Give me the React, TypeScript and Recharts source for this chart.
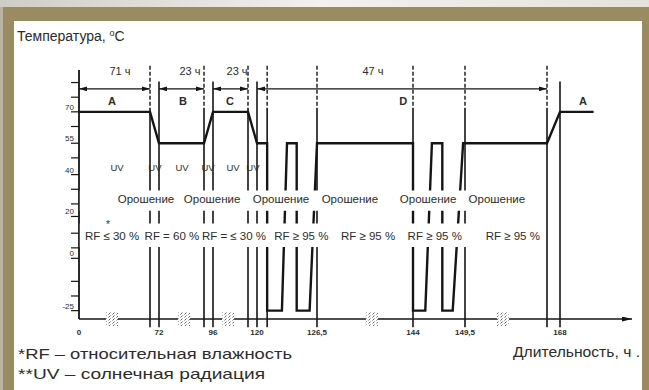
import React from "react";
import {
  LineChart,
  Line,
  XAxis,
  YAxis,
  ReferenceLine,
  ReferenceArea,
  ReferenceDot,
} from "recharts";

// temperature profile: hours -> °C
const profileHours = [0, 71, 72, 95, 96, 119, 120, 121.1, 121.1, 122.7, 123.25, 124.3, 124.3, 125.7, 126.5, 144, 144, 145.3, 146, 147.1, 147.1, 148.2, 149.3, 167, 168, 175];
const profileTemps = [70, 70, 55, 55, 70, 70, 55, 55, -25, -25, 55, 55, -25, -25, 55, 55, -25, -25, 55, 55, -25, -25, 55, 55, 70, 70];

const xTicks = [0, 72, 96, 120, 126.5, 144, 149.5, 168];
const yLabelled = [70, 55, 40, 20, 0, -25];
const yMinor = [84, 77, 63, 48, 33, 26, 12, 5, -11, -18];

// vertical marks: phase boundaries (tall, dashed top) and step ends (short)
const boundaryHours = [71, 95, 119, 121.1, 126.5, 144, 149.5, 167];
const stepHours = [72, 96, 120, 168];

// duration arrows on top
const spanFrom = [0, 72, 96, 120];
const spanTo = [71, 95, 119, 167];
const spanText = ["71 ч", "23 ч", "23 ч", "47 ч"];
const spanTextAt = [41, 87.8, 111.8, 136.7];

const phaseText = ["A", "B", "C", "D", "A"];
const phaseAt = [33, 84.3, 107.2, 142.2, 172.8];

const uvAt = [38, 71.55, 83.75, 95.45, 109.2, 119.55];
const sprayAt = [67, 95.9, 122.6, 132.5, 145.6, 156.3];
const rfAt = [33, 78.6, 109.8, 124.8, 135.8, 146.3, 159.7];
const rfText = ["RF ≤ 30 %", "RF = 60 %", "RF = ≤ 30 %", "RF ≥ 95 %", "RF ≥ 95 %", "RF ≥ 95 %", "RF ≥ 95 %"];

// axis break symbols on the time axis
const breakAt = [33, 84.8, 105.9, 136.5, 157.6];

// the time axis of the drawing is broken: each hour anchor gets its own length
const breakHours = [0, 71, 72, 95, 96, 119, 120, 126.5, 144, 149.5, 167, 168, 183];
const breakLengths = [0, 71, 80, 125, 134, 169, 178, 238, 334, 386, 468, 481, 553];

function brokenScale(dom: number[], rng: number[]): any {
  const n = breakHours.length - 1;
  const s: any = (v: number) => {
    let i = 0;
    while (i < n - 1 && v > breakHours[i + 1]) i++;
    const f =
      breakLengths[i] +
      ((v - breakHours[i]) / (breakHours[i + 1] - breakHours[i])) *
        (breakLengths[i + 1] - breakLengths[i]);
    return rng[0] + (f / breakLengths[n]) * (rng[1] - rng[0]);
  };
  s.domain = (d?: number[]) => (d === undefined ? dom : brokenScale(d, rng));
  s.range = (r?: number[]) => (r === undefined ? rng : brokenScale(dom, r));
  s.copy = () => brokenScale(dom, rng);
  s.ticks = () => xTicks.slice();
  s.tickFormat = () => (v: number) => String(v);
  return s;
}

const INK = "#151515";
const TEXT = "#2c2c2c";
const FONT = "'Liberation Sans', Arial, sans-serif";
const KHAKI = "#9b8b63";
const AXIS_X = 79; // margin.left + YAxis width

const profile = profileHours.map((h, i) => ({ h, t: profileTemps[i] }));

const label =
  (text: string, size: number, weight = 400) =>
  (p: any) =>
    (
      <text
        x={p.cx}
        y={p.cy}
        dy="0.35em"
        textAnchor="middle"
        fontSize={size}
        fontWeight={weight}
        fill={TEXT}
        fontFamily={FONT}
      >
        {text}
      </text>
    );

const breakShape = (p: any) => (
  <g>
    <rect x={p.cx - 6} y={p.cy - 7} width={12} height={14} fill="#fff" />
    <rect x={p.cx - 6} y={p.cy - 7} width={12} height={14} fill="url(#brk)" />
  </g>
);

const arrowLine = (p: any) => (
  <line
    x1={p.x1}
    y1={p.y1}
    x2={p.x2}
    y2={p.y2}
    stroke={INK}
    strokeWidth={1.3}
    markerStart="url(#arrowHead)"
    markerEnd="url(#arrowHead)"
  />
);

const YTick = (p: any) => {
  const v = p.payload.value;
  if (!yLabelled.includes(v)) return <g />;
  return (
    <text x={AXIS_X - 5} y={p.y - 2} textAnchor="end" fontSize={8} fill={TEXT} fontFamily={FONT}>
      {v}
    </text>
  );
};

const XTick = (p: any) => (
  <text x={p.x} y={p.y + 8} textAnchor="middle" fontSize={8} fontWeight={700} fill={TEXT} fontFamily={FONT}>
    {String(p.payload.value).replace(".", ",")}
  </text>
);

export default function App() {
  return (
    <div style={{ position: "fixed", left: 0, top: 0, width: 649, height: 390, background: "#fff", overflow: "hidden" }}>
      <svg width={649} height={390} style={{ position: "absolute", left: 0, top: 0 }}>
        <defs>
          <linearGradient id="topFade" x1="0" x2="1" y1="0" y2="0">
            <stop offset="0" stopColor="#cfcdc7" />
            <stop offset="0.5" stopColor="#f2f1ee" />
            <stop offset="1" stopColor="#e4e2dc" />
          </linearGradient>
          <marker id="arrowHead" viewBox="0 0 10 6" refX="10" refY="3" markerWidth="8" markerHeight="5" orient="auto-start-reverse" markerUnits="userSpaceOnUse">
            <path d="M0,0 L10,3 L0,6 z" fill={INK} />
          </marker>
          <marker id="axisArrow" viewBox="0 0 12 6" refX="12" refY="3" markerWidth="12" markerHeight="5" orient="auto" markerUnits="userSpaceOnUse">
            <path d="M0,0 L12,3 L0,6 z" fill={INK} />
          </marker>
          <pattern id="brk" width="4" height="3" patternUnits="userSpaceOnUse">
            <path d="M0.5,2.5 L2.5,0.5" stroke="#555" strokeWidth={0.9} />
          </pattern>
        </defs>
        <rect x={0} y={0} width={649} height={7} fill="url(#topFade)" />
        <rect x={0} y={7} width={649} height={14} fill={KHAKI} />
        <rect x={0} y={7} width={14} height={383} fill={KHAKI} />
        <rect x={0} y={7} width={3} height={383} fill="#b9b3a3" />
        <rect x={642} y={7} width={7} height={383} fill={KHAKI} />
        <text x={17} y={41} fontSize={14} fill={TEXT} fontFamily={FONT}>
          Температура,{" "}
          <tspan fontSize={9} dy={-5}>o</tspan>
          <tspan dy={5}>C</tspan>
        </text>
        <text x={18} y={359} fontSize={15} fill={TEXT} fontFamily={FONT} textLength={274} lengthAdjust="spacingAndGlyphs">
          *RF – относительная влажность
        </text>
        <text x={18} y={379} fontSize={15} fill={TEXT} fontFamily={FONT} textLength={247} lengthAdjust="spacingAndGlyphs">
          **UV –  солнечная радиация
        </text>
        <text x={513} y={357} fontSize={15} fill={TEXT} fontFamily={FONT} textLength={127} lengthAdjust="spacingAndGlyphs">
          Длительность, ч .
        </text>
      </svg>

      <div style={{ position: "absolute", left: 0, top: 0 }}>
        <LineChart width={649} height={390} data={profile} margin={{ top: 70, right: 17, bottom: 41, left: 49 }}>
          <XAxis
            dataKey="h"
            type="number"
            domain={[0, 183]}
            scale={brokenScale([0, 183], [0, 1])}
            ticks={xTicks}
            interval={0}
            height={30}
            tickLine={false}
            tick={<XTick />}
            axisLine={{ stroke: INK, strokeWidth: 1.5, markerEnd: "url(#axisArrow)" }}
          />
          <YAxis
            type="number"
            domain={[-29, 90]}
            ticks={[...yMinor, ...yLabelled].sort((a, b) => a - b)}
            interval={0}
            width={30}
            tickSize={8}
            tickLine={{ stroke: INK, strokeWidth: 1.2 }}
            axisLine={{ stroke: INK, strokeWidth: 1.8 }}
            tick={<YTick />}
          />

          {boundaryHours.map((h) => (
            <ReferenceLine key={"bd" + h} segment={[{ x: h, y: 92 }, { x: h, y: 72 }]} ifOverflow="visible" stroke={INK} strokeWidth={1.4} strokeDasharray="4 2" />
          ))}
          {boundaryHours.map((h) => (
            <ReferenceLine key={"bs" + h} segment={[{ x: h, y: 72 }, { x: h, y: -33 }]} ifOverflow="visible" stroke={INK} strokeWidth={1.6} />
          ))}
          {stepHours.map((h) => (
            <ReferenceLine key={"s" + h} segment={[{ x: h, y: 84.5 }, { x: h, y: -33 }]} ifOverflow="visible" stroke={INK} strokeWidth={1.6} />
          ))}

          <Line dataKey="t" type="linear" stroke={INK} strokeWidth={2.4} dot={false} activeDot={false} isAnimationActive={false} />

          {spanFrom.map((f, i) => (
            <ReferenceLine key={"sp" + i} segment={[{ x: f, y: 81 }, { x: spanTo[i], y: 81 }]} ifOverflow="visible" shape={arrowLine} />
          ))}

          <ReferenceArea x1={0.8} x2={166.5} y1={22.7} y2={32.4} fill="#fff" fillOpacity={1} stroke="none" ifOverflow="visible" zIndex={1500} />
          <ReferenceArea x1={0.8} x2={166.5} y1={5.4} y2={16.6} fill="#fff" fillOpacity={1} stroke="none" ifOverflow="visible" zIndex={1500} />

          {spanTextAt.map((h, i) => (
            <ReferenceDot key={"st" + i} x={h} y={89.5} r={0} ifOverflow="visible" shape={label(spanText[i], 11)} zIndex={1600} />
          ))}
          {phaseAt.map((h, i) => (
            <ReferenceDot key={"ph" + i} x={h} y={75} r={0} ifOverflow="visible" shape={label(phaseText[i], 11, 700)} zIndex={1600} />
          ))}
          {uvAt.map((h, i) => (
            <ReferenceDot key={"uv" + i} x={h} y={43.2} r={0} ifOverflow="visible" shape={label("UV", 9.5)} zIndex={1600} />
          ))}
          {sprayAt.map((h, i) => (
            <ReferenceDot key={"sr" + i} x={h} y={28.3} r={0} ifOverflow="visible" shape={label("Орошение", 11.5)} zIndex={1600} />
          ))}
          {rfAt.map((h, i) => (
            <ReferenceDot key={"rf" + i} x={h} y={10.6} r={0} ifOverflow="visible" shape={label(rfText[i], 11.5)} zIndex={1600} />
          ))}
          <ReferenceDot x={29} y={16} r={0} ifOverflow="visible" shape={label("*", 10)} zIndex={1600} />
          {breakAt.map((h, i) => (
            <ReferenceDot key={"br" + i} x={h} y={-29} r={0} ifOverflow="visible" shape={breakShape} zIndex={1600} />
          ))}
        </LineChart>
      </div>
    </div>
  );
}
